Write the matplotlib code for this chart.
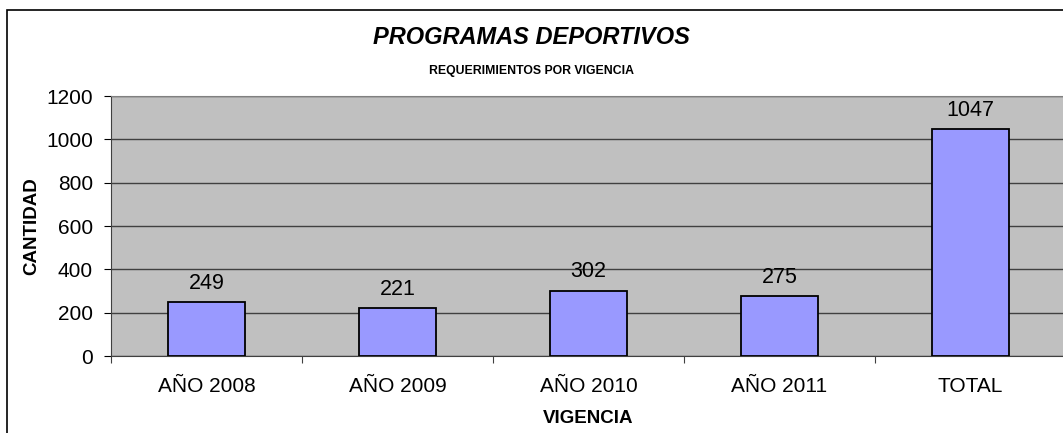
import matplotlib
matplotlib.use("Agg")
import matplotlib.pyplot as plt
from matplotlib.patches import Rectangle

categories = ["AÑO 2008", "AÑO 2009", "AÑO 2010", "AÑO 2011", "TOTAL"]
values = [249, 221, 302, 275, 1047]
yticks = [0, 200, 400, 600, 800, 1000, 1200]

plt.rcParams["font.family"] = ["Liberation Sans", "DejaVu Sans"]

fig = plt.figure(figsize=(10.63, 4.33), dpi=100)

# outer chart border (cropped on right and bottom in the original)
fig.patches.append(Rectangle((7 / 1063, -0.05), 1.2, 1 - 10 / 433 + 0.05,
                             transform=fig.transFigure, fill=False,
                             edgecolor="black", lw=1.2))

ax = fig.add_axes([111 / 1063, 1 - 356 / 433, 955 / 1063, 260 / 433])
ax.set_facecolor("#C0C0C0")

x = range(len(categories))
ax.bar(x, values, width=0.4, color="#9999FF", edgecolor="black", lw=1.3, zorder=3)
for xi, v in zip(x, values):
    ax.annotate(str(v), (xi, v), xytext=(0, 6), textcoords="offset points",
                ha="center", va="bottom", fontsize=15.5)

ax.set_xlim(-0.5, len(categories) - 0.5)
ax.set_ylim(0, 1200)
ax.set_yticks(yticks)
ax.set_yticklabels([str(t) for t in yticks], fontsize=15)
ax.yaxis.grid(True, color="#404040", lw=1.0, zorder=0)

# category labels centred, tick marks at category boundaries
ax.set_xticks([i - 0.5 for i in range(len(categories) + 1)])
ax.set_xticklabels([])
ax.set_xticks(list(x), minor=True)
ax.set_xticklabels(categories, minor=True, fontsize=15)
ax.tick_params(axis="x", which="minor", length=0, pad=15)
ax.tick_params(axis="x", which="major", length=5, color="#404040")
ax.tick_params(axis="y", length=5, pad=8)

for s in ["top", "right"]:
    ax.spines[s].set_color("#808080")
ax.spines["left"].set_color("#404040")
ax.spines["bottom"].set_color("#404040")

ax.set_ylabel("CANTIDAD", fontsize=13.5, fontweight="bold", labelpad=4)
ax.set_xlabel("VIGENCIA", fontsize=13.5, fontweight="bold", labelpad=10)

fig.text(0.5, 1 - 38 / 433, "PROGRAMAS DEPORTIVOS", ha="center", va="center",
         fontsize=17, fontweight="bold", fontstyle="italic")
fig.text(0.5, 1 - 71 / 433, "REQUERIMIENTOS POR VIGENCIA", ha="center", va="center",
         fontsize=8.8, fontweight="bold")

fig.savefig("out.png", dpi=100)
